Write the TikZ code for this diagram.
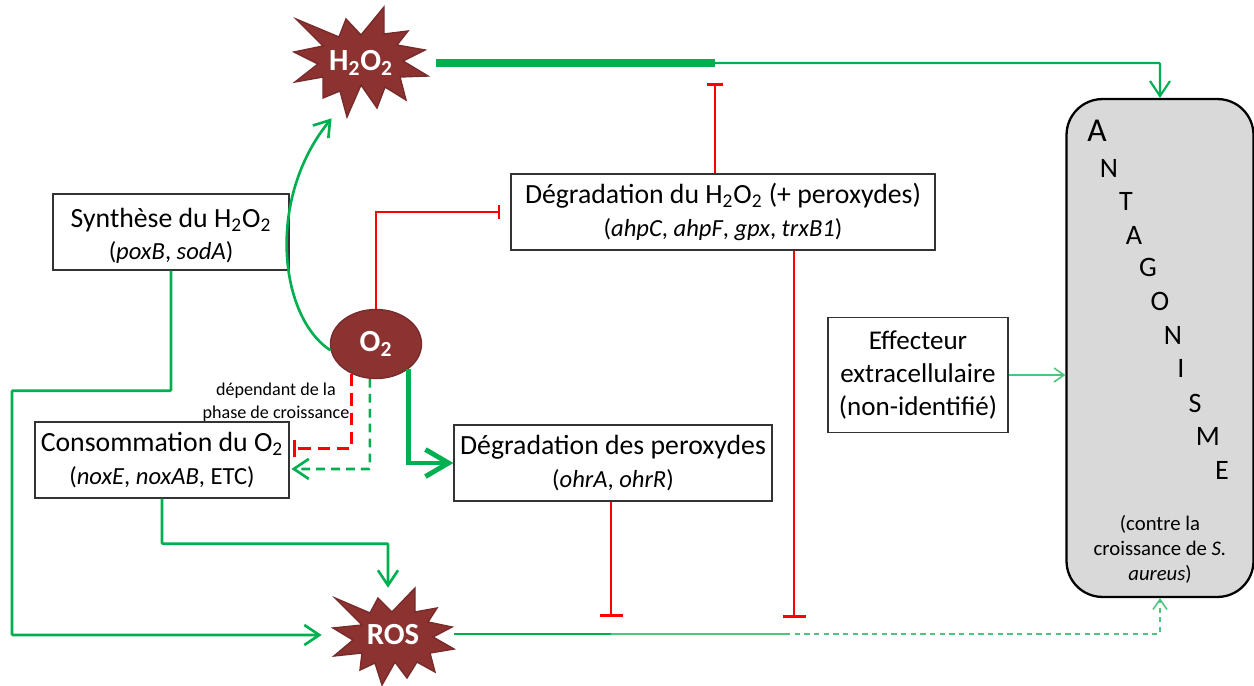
\documentclass[tikz,border=0pt]{standalone}
\usepackage{fontspec}
\setmainfont{Carlito}
\usepackage{xcolor}
\usepackage{tikz}
\usetikzlibrary{positioning,arrows.meta,shapes.geometric}

\definecolor{vert}{HTML}{00B050}
\definecolor{vertclair}{HTML}{4CC67F}
\definecolor{rouge}{HTML}{FF0000}
\definecolor{brun}{HTML}{8C3331}
\definecolor{gris}{HTML}{D9D9D9}

\newcommand{\deux}{\textsubscript{2}}
\newcommand{\genes}[1]{{\fontsize{14}{18.5}\selectfont #1}}

\begin{document}
\begin{tikzpicture}[>={Straight Barb[length=3mm,width=4mm]},x=0.02cm,y=-0.02cm]

\tikzstyle{box}=[draw=black!80,line width=0.8pt,fill=white,align=center,inner sep=0pt,font=\fontsize{15.8}{18.5}\selectfont]
\tikzstyle{burst}=[fill=brun,draw=brun!85!black,line width=0.8pt,line join=miter]
\tikzstyle{burstlabel}=[text=white,inner sep=0pt,font=\fontsize{17.5}{20}\selectfont\bfseries]
\tikzstyle{vline}=[draw=vert,line width=1.5pt,rounded corners=0.5pt]
\tikzstyle{vthin}=[draw=vertclair,line width=0.9pt]
\tikzstyle{inhibit}=[draw=rouge,line width=1.6pt,-{Bar[width=4.6mm,line width=1.6pt]}]
\tikzstyle{letter}=[inner sep=0pt,font=\fontsize{16}{18}\selectfont]

\useasboundingbox (0,0) rectangle (1254,686);

% stars
\path[burst] (296,19)--(339,37)--(346,19)--(361,35)--(384,7)--(384,34)--(408,31)--(397,45)--(425,50)--(403,61)--(428,76)--(400,77)--(406,100)--(385,87)--(377,108)--(361,85)--(347,117)--(340,91)--(323,98)--(323,77)--(295,82)--(318,64)--(294,52)--(323,46)--cycle;
\path[burst] (335,598)--(370,613)--(378,598)--(392,612)--(415,588)--(415,612)--(437,608)--(428,622)--(452,627)--(433,637)--(454,649)--(430,653)--(435,672)--(417,662)--(407,678)--(395,662)--(382,685)--(375,663)--(360,670)--(362,653)--(334,656)--(353,640)--(333,628)--(362,625)--cycle;

\node[burstlabel,minimum width=3cm,minimum height=2.2cm] (h2o2) at (361,63) {H\deux O\deux};
\node[burstlabel,minimum width=2.64cm,minimum height=1.88cm] (ros) at (388,635) {\hspace{5.6pt}ROS};
\node[ellipse,fill=brun,draw=brun!85!black,line width=0.8pt,minimum width=1.82cm,minimum height=1.38cm,inner sep=0pt,text=white,font=\fontsize{17.5}{20}\selectfont\bfseries] (o2) at (376,344) {O\deux};

% boxes
\node[box,minimum width=4.72cm,minimum height=1.52cm] (synth) at (171,232) {\\[-3pt]Synthèse du H\deux O\deux\\\genes{(\textit{poxB}, \textit{sodA})}};
\node[box,minimum width=8.48cm,minimum height=1.52cm] (degh) at (723,212) {Dégradation du H\deux O\deux\ (+ peroxydes)\\\genes{(\textit{ahpC}, \textit{ahpF}, \textit{gpx}, \textit{trxB1})}};
\node[box,minimum width=5.08cm,minimum height=1.52cm] (conso) at (162,460) {Consommation du O\deux\\\genes{(\textit{noxE}, \textit{noxAB}, ETC)}};
\node[box,minimum width=6.36cm,minimum height=1.52cm] (degp) at (613,463) {Dégradation des peroxydes\\\genes{(\textit{ohrA}, \textit{ohrR})}};
\node[box,minimum width=3.6cm,minimum height=2.3cm,font=\fontsize{15.4}{19}\selectfont] (eff) at (918,375) {Effecteur\\extracellulaire\\(non-identifié)};
\node[draw=black,line width=1.3pt,fill=gris,rounded corners=0.72cm,minimum width=3.74cm,minimum height=9.96cm,inner sep=0pt] (antag) at (1160,348) {};

% letters
\node[letter,font=\fontsize{19}{20}\selectfont] (a1) at (1097,131) {A};
\foreach \l/\x/\y [count=\i] in {N/1109/168,T/1126/201,A/1134/235,G/1148/267,O/1160/301,N/1173/335,I/1181/368,S/1195/403,M/1208/436,E/1222/470}
    \node[letter] (l\i) at (\x,\y) {\l};
\node[align=center,inner sep=0pt,font=\fontsize{11.8}{14.2}\selectfont] (contre) at (1160,549) {(contre la\\croissance de \textit{S.}\\\textit{aureus})};

\node[inner sep=0pt,align=center,font=\fontsize{10.3}{13}\selectfont] (phase) at (276,402) {dépendant de la\\phase de croissance};

% connectors
\coordinate (h2o2mid) at (715,63);
\coordinate (rosmid) at (611,634);
\coordinate (rosdash) at (785,634);
\coordinate (barh) at (715,83);
\coordinate (barp) at (611,617);
\coordinate (bard) at (794,618);
\coordinate (barc) at (500,212);

\draw[draw=vert,line width=4.5pt] (h2o2.east) -- (h2o2mid);
\draw[vline,line width=1.2pt,->] (h2o2mid) -| (antag.north);
\draw[vline,->] (o2.188) .. controls (280,318) and (265,200) .. (h2o2.242);
\draw[vline,->] (synth.south) -- ++(0,120) -- ++(-159,0) |- (ros.west);
\draw[vline,->] (conso.south) -- ++(0,45) -| (ros.north);
\draw[draw=vert,line width=2.8pt,->,>={Straight Barb[length=4.6mm,width=5.4mm]}] (o2.-38) |- (degp.west);
\draw[vline,dash pattern=on 5pt off 3.5pt,->,shorten >=1pt] (o2.-100) |- (conso.-4.5);
\draw[draw=rouge,line width=1.6pt,dash pattern=on 7pt off 4pt,-{Bar[width=3.4mm,line width=1.4pt]},shorten >=2pt] (o2.-129) |- (conso.5);
\draw[draw=rouge,line width=1.6pt,-{Bar[width=2.8mm,line width=1.4pt]}] (o2.north) |- (barc);
\draw[draw=rouge,line width=1.6pt,-{Bar[width=3.2mm,line width=1.6pt]}] (degh.north -| barh) -- (barh);
\draw[inhibit] (degh.south -| bard) -- (bard);
\draw[inhibit] (degp.south -| barp) -- (barp);
\draw[vline,line width=1.6pt] (ros.east |- rosmid) -- (rosmid);
\draw[vthin] (rosmid) -- (rosdash);
\draw[vthin,dash pattern=on 3pt off 2.5pt,->,>={Straight Barb[length=2mm,width=2.8mm]}] (rosdash) -| (antag.south);
\draw[vthin,->,>={Straight Barb[length=2mm,width=2.8mm]}] (eff.east) -- (eff.east -| antag.west);

\end{tikzpicture}
\end{document}
